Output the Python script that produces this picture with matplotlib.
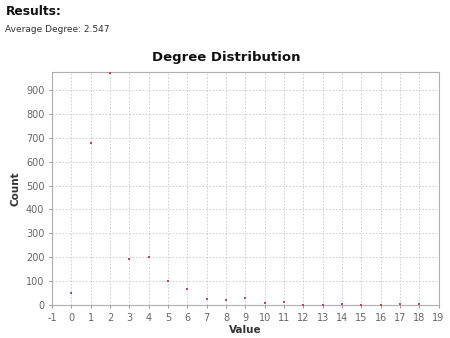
import matplotlib
matplotlib.use("Agg")
import matplotlib.pyplot as plt

values = list(range(0, 19))
counts = [50, 680, 970, 193, 200, 100, 65, 25, 20, 30, 8, 12, 2, 0, 3, 0, 0, 3, 3]
x_ticks = list(range(-1, 20))
y_ticks = list(range(0, 1000, 100))

plt.rcParams['font.family'] = ['DejaVu Sans']
plt.rcParams['axes.unicode_minus'] = False
fig = plt.figure(figsize=(4.5, 3.38), dpi=100)
fig.text(0.012, 0.965, "Results:", fontsize=8.8, fontweight='bold', va='center', ha='left', color='#111111')
fig.text(0.012, 0.913, "Average Degree: 2.547", fontsize=6.5, va='center', ha='left', color='#333333')
fig.text(0.502, 0.831, "Degree Distribution", fontsize=9.5, fontweight='bold', color='#111111',
         ha='center', va='center')

ax = fig.add_axes([0.1156, 0.0976, 0.859, 0.689])
ax.scatter(values, counts, s=4, marker='s', color='#c8474f', linewidths=0, zorder=3)
ax.set_xlim(-1, 19)
ax.set_ylim(0, 975)
ax.set_xticks(x_ticks)
ax.set_yticks(y_ticks)
ax.grid(True, color='#c8c8c8', linestyle=(0, (2, 2)), linewidth=0.6)
ax.set_axisbelow(True)
for s in ax.spines.values():
    s.set_color('#b0b0b0')
    s.set_linewidth(0.8)
ax.tick_params(colors='#888888', labelsize=7, length=2, width=0.6, labelcolor='#666666')
ax.set_xlabel("Value", fontsize=7.5, fontweight='bold', color='#333333', labelpad=2)
ax.set_ylabel("Count", fontsize=7.5, fontweight='bold', color='#333333', labelpad=4)

fig.savefig("out.png", dpi=100)
